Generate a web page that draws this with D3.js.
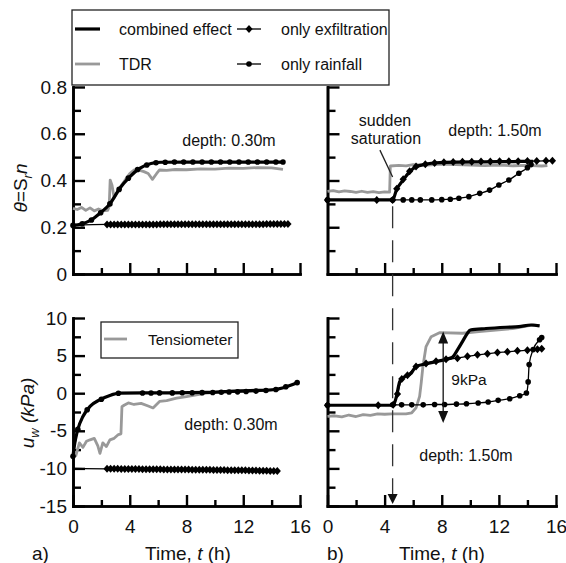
<!DOCTYPE html>
<html>
<head>
<meta charset="utf-8">
<script src="https://cdn.jsdelivr.net/npm/d3@7"></script>
<style>
  body { margin: 0; background: #fff; }
  text { font-family: "Liberation Sans", Arial, sans-serif; fill: #111; }
</style>
</head>
<body>
<script>
// ---- data: time (h) and value pairs ----

// a) top: volumetric water content at 0.30 m
var aTopCombined = [[0, 0.208], [0.6, 0.214], [1.2, 0.228], [1.9, 0.26], [2.6, 0.30], [3.3, 0.367], [4.0, 0.416],
  [4.7, 0.452], [5.5, 0.473], [6.2, 0.478], [8, 0.479], [10, 0.479], [12, 0.479], [14.8, 0.479]]
var aTopRain = [[0, 0.208], [0.65, 0.215], [1.3, 0.231], [1.95, 0.262], [2.6, 0.30], [3.25, 0.362], [3.9, 0.41],
  [4.55, 0.447], [5.2, 0.466], [5.85, 0.476], [6.5, 0.478], [7.15, 0.479], [7.8, 0.479], [8.45, 0.479],
  [9.1, 0.479], [9.75, 0.479], [10.4, 0.479], [11.05, 0.479], [11.7, 0.479], [12.35, 0.479], [13.0, 0.479],
  [13.65, 0.479], [14.3, 0.479], [14.8, 0.479]]
var aTopTDR = [[0, 0.281], [0.3, 0.276], [0.6, 0.285], [0.9, 0.272], [1.2, 0.283], [1.5, 0.27], [1.8, 0.278],
  [2.1, 0.27], [2.45, 0.272], [2.55, 0.29], [2.62, 0.402], [2.75, 0.38], [2.9, 0.326], [3.1, 0.345], [3.3, 0.37],
  [3.6, 0.395], [4.0, 0.43], [4.3, 0.445], [4.7, 0.443], [5.0, 0.438], [5.3, 0.43], [5.6, 0.405], [5.9, 0.43],
  [6.1, 0.445], [6.6, 0.443], [7.2, 0.447], [8, 0.446], [9, 0.45], [10, 0.449], [11, 0.453], [12, 0.452],
  [13, 0.455], [14, 0.454], [14.8, 0.448]]

// dense output times of the "only exfiltration" run at 0.30 m
var exfTimesA = [2.40, 2.65, 2.90, 3.15, 3.40, 3.65, 3.90, 4.15, 4.40, 4.65,
  4.90, 5.15, 5.40, 5.65, 5.90, 6.15, 6.40, 6.65, 6.90, 7.15,
  7.40, 7.65, 7.90, 8.15, 8.40, 8.65, 8.90, 9.15, 9.40, 9.65,
  9.90, 10.15, 10.40, 10.65, 10.90, 11.15, 11.40, 11.65, 11.90, 12.15,
  12.40, 12.65, 12.90, 13.15, 13.40, 13.65, 13.90, 14.15, 14.40, 14.65,
  14.90, 15.15]
var exfThetaA = [0.212, 0.212, 0.212, 0.212, 0.212, 0.212, 0.212, 0.212, 0.212, 0.212,
  0.212, 0.212, 0.212, 0.212, 0.212, 0.213, 0.213, 0.213, 0.213, 0.213,
  0.213, 0.213, 0.213, 0.213, 0.213, 0.213, 0.213, 0.213, 0.213, 0.213,
  0.213, 0.213, 0.213, 0.213, 0.213, 0.213, 0.213, 0.213, 0.213, 0.213,
  0.213, 0.213, 0.213, 0.213, 0.213, 0.214, 0.214, 0.214, 0.214, 0.214,
  0.214, 0.214]
var exfSuctionA = [-10.05, -10.05, -10.06, -10.06, -10.07, -10.07, -10.08, -10.08, -10.09, -10.09,
  -10.10, -10.10, -10.11, -10.11, -10.12, -10.12, -10.13, -10.13, -10.14, -10.14,
  -10.15, -10.15, -10.16, -10.16, -10.17, -10.17, -10.18, -10.18, -10.19, -10.19,
  -10.20, -10.21, -10.21, -10.22, -10.23, -10.23, -10.24, -10.25, -10.25, -10.26,
  -10.27, -10.28, -10.29, -10.30, -10.31, -10.32, -10.33, -10.34, -10.35]

// b) top: volumetric water content at 1.50 m
var bTopCombined = [[0, 0.317], [4.56, 0.317], [4.83, 0.36], [5.3, 0.402], [5.76, 0.438], [6.2, 0.459],
  [6.9, 0.47], [7.6, 0.476], [9, 0.479], [11, 0.48], [13, 0.481], [14.4, 0.482]]
var bTopExf = [[0, 0.317], [3.45, 0.317], [4.56, 0.317], [4.85, 0.365], [5.3, 0.405], [5.75, 0.44], [6.2, 0.46],
  [6.85, 0.47], [7.5, 0.475], [8.15, 0.478], [8.8, 0.479], [9.45, 0.48], [10.1, 0.48], [10.75, 0.481],
  [11.4, 0.481], [12.05, 0.482], [12.7, 0.482], [13.35, 0.482], [14.0, 0.483], [14.65, 0.483], [15.3, 0.484],
  [15.75, 0.485]]
var bTopRain = [[0, 0.317], [4.56, 0.317], [5.3, 0.317], [5.9, 0.317], [6.5, 0.317], [7.3, 0.317], [8.0, 0.318],
  [8.6, 0.32], [9.2, 0.324], [9.9, 0.331], [10.66, 0.345], [11.35, 0.359], [12.0, 0.381], [12.7, 0.402],
  [13.4, 0.431], [14.0, 0.455], [14.25, 0.468]]
var bTopTDR = [[0, 0.353], [0.4, 0.357], [0.8, 0.351], [1.2, 0.356], [1.6, 0.353], [2.0, 0.349], [2.4, 0.354],
  [2.8, 0.349], [3.2, 0.352], [3.6, 0.348], [4.0, 0.351], [4.35, 0.35], [4.4, 0.462], [5, 0.465], [5.5, 0.463],
  [6, 0.468], [7, 0.466], [8, 0.47], [9, 0.468], [10, 0.466], [11, 0.464], [12, 0.466], [13, 0.463],
  [14, 0.465], [15, 0.462], [15.4, 0.464]]

// a) bottom: pore water pressure at 0.30 m
var aBotCombined = [[0, -8.4], [0.09, -7.05], [0.2, -5.9], [0.34, -4.8], [0.7, -3.1], [1.2, -1.75], [1.9, -0.86],
  [2.6, -0.3], [3.3, 0], [5, 0.05], [7, 0.05], [9.4, 0.1], [11, 0.25], [12.5, 0.35], [14.06, 0.46],
  [14.76, 0.69], [15.1, 0.9], [15.8, 1.4]]
var aBotRain = [[0, -8.4], [0.34, -4.8], [1.0, -2.2], [2.0, -0.8], [3.2, 0], [4.9, 0.02], [5.5, 0.03], [6.1, 0.04],
  [7.0, 0.04], [7.7, 0.05], [8.4, 0.06], [9.1, 0.07], [9.85, 0.1], [10.45, 0.12], [11.0, 0.15], [11.6, 0.18],
  [12.2, 0.22], [12.9, 0.28], [13.6, 0.36], [14.3, 0.5], [15.0, 0.85], [15.8, 1.4]]
var aBotTens = [[0, -7.7], [0.2, -8.3], [0.45, -6.6], [0.7, -7.2], [0.95, -6.4], [1.2, -6.2], [1.5, -6.0],
  [1.75, -7.0], [1.9, -8.0], [2.1, -6.6], [2.35, -7.1], [2.6, -6.2], [2.9, -6.0], [3.2, -5.5], [3.38, -5.4],
  [3.45, -1.8], [3.6, -1.6], [3.9, -1.3], [4.3, -1.5], [4.8, -1.35], [5.3, -1.7], [5.64, -1.96], [6.1, -1.1],
  [6.6, -1.0], [7.3, -0.66], [8.0, -0.45], [8.9, -0.15], [9.4, 0], [11, 0.2], [13, 0.3], [14.5, 0.5]]

// b) bottom: pore water pressure at 1.50 m
var bBotCombined = [[0, -1.6], [4.6, -1.6], [4.83, -0.42], [5.06, 1.56], [5.4, 2.2], [5.87, 2.67], [6.2, 3.55],
  [6.9, 3.9], [7.6, 4.2], [8.3, 4.5], [8.76, 4.8], [9.1, 5.76], [9.45, 6.86], [9.8, 7.97], [10.0, 8.4],
  [11.1, 8.6], [12.5, 8.77], [13.4, 8.85], [14.25, 9.07], [14.85, 8.96]]
var bBotExf = [[0, -1.6], [3.55, -1.6], [4.6, -1.55], [4.9, -0.1], [5.2, 1.9], [5.6, 2.4], [6.2, 3.55], [6.9, 3.95],
  [7.6, 4.25], [8.3, 4.5], [9.1, 4.66], [9.8, 4.9], [10.5, 5.1], [11.2, 5.25], [11.9, 5.4], [12.6, 5.5],
  [13.3, 5.63], [14.0, 5.72], [14.7, 5.85], [15.0, 5.9]]
var bBotRain = [[0, -1.6], [4.56, -1.55], [5.19, -1.55], [5.9, -1.55], [6.7, -1.55], [7.5, -1.5], [8.2, -1.5],
  [9.03, -1.45], [9.73, -1.4], [10.55, -1.3], [11.25, -1.17], [11.95, -0.95], [12.76, -0.73], [13.46, -0.33],
  [13.93, 0.03], [14.05, 1.5], [14.12, 3.8], [14.4, 5.8], [14.85, 7.1], [15.0, 7.4]]
var bBotTens = [[0, -3.07], [0.5, -3.0], [1.0, -3.15], [1.5, -2.9], [2.0, -3.1], [2.5, -2.85], [3.0, -2.95],
  [3.5, -2.75], [4.0, -2.8], [4.5, -2.75], [5.0, -2.75], [5.5, -2.75], [5.9, -2.6], [6.2, -1.96], [6.45, -0.42],
  [6.56, 1.35], [6.68, 3.55], [6.9, 6.2], [7.26, 7.52], [7.84, 8.05], [9.45, 7.97], [10.6, 8.2], [12.97, 8.6],
  [14.4, 9.07], [14.85, 8.98]]

// ticks
var timeMajor = [4, 8, 12, 16]
var timeMinor = [2, 6, 10, 14]
var timeLabels = [0, 4, 8, 12, 16]
var thetaMajor = [0, 0.2, 0.4, 0.6, 0.8]
var thetaMinor = [0.1, 0.3, 0.5, 0.7]
var uwMajor = [-15, -10, -5, 0, 5, 10]
var uwMinor = [-12.5, -7.5, -2.5, 2.5, 7.5]

// annotations (data units)
var suddenTime = 4.56
var arrowTime = 8.1
var arrowRange = [-3.95, 8.2]

// ---- canvas ----
var svg = d3.select('body').append('svg')
  .attr('width', 566)
  .attr('height', 563)

// scales
var xA = d3.scaleLinear().domain([0, 16]).range([73, 300])
var xB = d3.scaleLinear().domain([0, 16]).range([327.5, 556])
var yTop = d3.scaleLinear().domain([0, 0.8]).range([274, 87])
var yBot = d3.scaleLinear().domain([-15, 10]).range([506, 318])

var FS = 19

function axes (x, y, yMajor, yMinor, showY, showX) {
  var g = svg.append('g')
  // minor ticks
  g.append('g')
    .attr('transform', 'translate(' + x.range()[0] + ',0)')
    .call(d3.axisLeft(y).tickValues(yMinor).tickSizeInner(-8).tickSizeOuter(0).tickFormat(''))
  g.append('g')
    .attr('transform', 'translate(0,' + y.range()[0] + ')')
    .call(d3.axisBottom(x).tickValues(timeMinor).tickSizeInner(-6).tickSizeOuter(0).tickFormat(''))
  // major ticks
  g.append('g')
    .attr('transform', 'translate(' + x.range()[0] + ',0)')
    .call(d3.axisLeft(y).tickValues(yMajor).tickSizeInner(-12).tickSizeOuter(0).tickPadding(6)
      .tickFormat(showY ? function (d) { return d } : ''))
  g.append('g')
    .attr('transform', 'translate(0,' + y.range()[0] + ')')
    .call(d3.axisBottom(x).tickValues(showX ? timeLabels : timeMajor).tickSizeInner(-11).tickSizeOuter(0)
      .tickPadding(14).tickFormat(showX ? function (d) { return d } : ''))
  g.selectAll('.domain').attr('stroke', '#000').attr('stroke-width', 2.6).attr('stroke-linecap', 'square')
  g.selectAll('.tick line').attr('stroke', '#000').attr('stroke-width', 2.4)
  g.selectAll('.tick text').attr('font-size', FS + 'px')
    .attr('font-family', '"Liberation Sans", Arial, sans-serif').attr('fill', '#111')
}

axes(xA, yTop, thetaMajor, thetaMinor, true, false)
axes(xB, yTop, thetaMajor, thetaMinor, false, false)
axes(xA, yBot, uwMajor, uwMinor, true, true)
axes(xB, yBot, uwMajor, uwMinor, false, true)

// ---- series ----
function lineOf (x, y, curve) {
  return d3.line()
    .x(function (d) { return x(d[0]) })
    .y(function (d) { return y(d[1]) })
    .curve(curve || d3.curveLinear)
}

function sensor (data, x, y) {
  svg.append('path').datum(data)
    .attr('d', lineOf(x, y))
    .attr('fill', 'none').attr('stroke', '#999').attr('stroke-width', 2.8)
    .attr('stroke-linejoin', 'round')
}

function combined (data, x, y) {
  svg.append('path').datum(data)
    .attr('d', lineOf(x, y, d3.curveMonotoneX))
    .attr('fill', 'none').attr('stroke', '#000').attr('stroke-width', 3.2)
    .attr('stroke-linejoin', 'round')
}

var diamond = 'M0,-4L3.6,0L0,4L-3.6,0Z'

function marked (data, x, y, shape, markFrom) {
  svg.append('path').datum(data)
    .attr('d', lineOf(x, y, d3.curveMonotoneX))
    .attr('fill', 'none').attr('stroke', '#000').attr('stroke-width', 1.3)
  var pts = svg.append('g').selectAll('g').data(data.slice(markFrom || 0))
  if (shape === 'diamond') {
    pts.enter().append('path')
      .attr('d', diamond)
      .attr('transform', function (d) { return 'translate(' + x(d[0]) + ',' + y(d[1]) + ')' })
      .attr('fill', '#000')
  } else {
    pts.enter().append('circle')
      .attr('cx', function (d) { return x(d[0]) })
      .attr('cy', function (d) { return y(d[1]) })
      .attr('r', 2.8)
      .attr('fill', '#000')
  }
}

function zip (ts, vs, start) {
  var out = [start]
  ts.forEach(function (t, i) { if (i < vs.length) out.push([t, vs[i]]) })
  return out
}

// a) top
sensor(aTopTDR, xA, yTop)
marked(zip(exfTimesA, exfThetaA, [0, 0.208]), xA, yTop, 'diamond', 1)
marked(aTopRain, xA, yTop, 'circle', 0)
combined(aTopCombined, xA, yTop)

// b) top
sensor(bTopTDR, xB, yTop)
marked(bTopRain, xB, yTop, 'circle', 0)
marked(bTopExf, xB, yTop, 'diamond', 0)
combined(bTopCombined, xB, yTop)

// a) bottom
sensor(aBotTens, xA, yBot)
marked(zip(exfTimesA, exfSuctionA, [0, -10.0]), xA, yBot, 'diamond', 1)
marked(aBotRain, xA, yBot, 'circle', 0)
combined(aBotCombined, xA, yBot)

// b) bottom
sensor(bBotTens, xB, yBot)
marked(bBotRain, xB, yBot, 'circle', 0)
marked(bBotExf, xB, yBot, 'diamond', 0)
combined(bBotCombined, xB, yBot)

// ---- annotations ----
function label (x, y, txt, size, anchor) {
  return svg.append('text')
    .attr('x', x).attr('y', y)
    .attr('font-size', (size || 16) + 'px')
    .attr('text-anchor', anchor || 'middle')
    .text(txt)
}

label(229, 146, 'depth: 0.30m')
label(495, 136, 'depth: 1.50m')
label(231, 430, 'depth: 0.30m')
label(466, 461, 'depth: 1.50m')
label(385, 126, 'sudden')
label(386, 144, 'saturation')
label(469, 385, '9kPa', 15.5)

// pointer to the sudden saturation
svg.append('line')
  .attr('x1', xB(3.67)).attr('y1', yTop(0.53))
  .attr('x2', xB(suddenTime)).attr('y2', yTop(0.415))
  .attr('stroke', '#222').attr('stroke-width', 1.3)

// dashed time marker down to the time axis
var xs = xB(suddenTime)
svg.append('line')
  .attr('x1', xs).attr('y1', yTop(0.29))
  .attr('x2', xs).attr('y2', yBot(-15) - 10)
  .attr('stroke', '#333').attr('stroke-width', 1.3)
  .attr('stroke-dasharray', '22,12')
svg.append('path')
  .attr('d', 'M' + (xs - 5) + ',' + (yBot(-15) - 12) + 'L' + (xs + 5) + ',' + (yBot(-15) - 12) +
    'L' + xs + ',' + (yBot(-15) - 2) + 'Z')
  .attr('fill', '#111')

// 9 kPa double arrow
var xa = xB(arrowTime)
var ya0 = yBot(arrowRange[0])
var ya1 = yBot(arrowRange[1])
svg.append('line')
  .attr('x1', xa).attr('y1', ya1 + 8).attr('x2', xa).attr('y2', ya0 - 8)
  .attr('stroke', '#111').attr('stroke-width', 1.3)
svg.append('path')
  .attr('d', 'M' + xa + ',' + ya1 + 'L' + (xa + 5) + ',' + (ya1 + 12) + 'L' + (xa - 5) + ',' + (ya1 + 12) + 'Z' +
    'M' + xa + ',' + ya0 + 'L' + (xa + 5) + ',' + (ya0 - 12) + 'L' + (xa - 5) + ',' + (ya0 - 12) + 'Z')
  .attr('fill', '#111')

// ---- axis titles ----
var yT = svg.append('text')
  .attr('transform', 'translate(27,188) rotate(-90)')
  .attr('text-anchor', 'middle')
  .attr('font-size', FS + 'px')
yT.append('tspan').attr('font-style', 'italic').text('θ')
yT.append('tspan').text('=S')
yT.append('tspan').attr('font-size', '13px').attr('font-style', 'italic').attr('dy', 5).text('r')
yT.append('tspan').attr('font-style', 'italic').attr('dy', -5).text('n')

var yB = svg.append('text')
  .attr('transform', 'translate(34,413) rotate(-90)')
  .attr('text-anchor', 'middle')
  .attr('font-size', FS + 'px')
yB.append('tspan').attr('font-style', 'italic').text('u')
yB.append('tspan').attr('font-size', '13px').attr('font-style', 'italic').attr('dy', 5).text('w')
yB.append('tspan').attr('font-style', 'italic').attr('dy', -5).text(' (kPa)')

function timeTitle (x) {
  var t = svg.append('text').attr('x', x).attr('y', 560)
    .attr('text-anchor', 'middle').attr('font-size', FS + 'px')
  t.append('tspan').text('Time, ')
  t.append('tspan').attr('font-style', 'italic').text('t')
  t.append('tspan').text(' (h)')
}
timeTitle(188)
timeTitle(442)
label(32, 560, 'a)', FS, 'start')
label(327, 560, 'b)', FS, 'start')

// ---- legends ----
var lg = svg.append('g')
lg.append('rect').attr('x', 72).attr('y', 10).attr('width', 317).attr('height', 75)
  .attr('fill', '#fff').attr('stroke', '#222').attr('stroke-width', 1.3)
lg.append('line').attr('x1', 75).attr('x2', 100).attr('y1', 29).attr('y2', 29)
  .attr('stroke', '#000').attr('stroke-width', 3.2)
lg.append('line').attr('x1', 75).attr('x2', 100).attr('y1', 64).attr('y2', 64)
  .attr('stroke', '#999').attr('stroke-width', 2.8)
lg.append('line').attr('x1', 237).attr('x2', 261).attr('y1', 29).attr('y2', 29)
  .attr('stroke', '#000').attr('stroke-width', 1.3)
lg.append('path').attr('d', diamond).attr('transform', 'translate(249,29)').attr('fill', '#000')
lg.append('line').attr('x1', 237).attr('x2', 261).attr('y1', 64).attr('y2', 64)
  .attr('stroke', '#000').attr('stroke-width', 1.3)
lg.append('circle').attr('cx', 249).attr('cy', 64).attr('r', 2.8).attr('fill', '#000')
label(119, 35, 'combined effect', 16, 'start')
label(119, 70, 'TDR', 16, 'start')
label(281, 35, 'only exfiltration', 16, 'start')
label(281, 70, 'only rainfall', 16, 'start')

var tg = svg.append('g')
tg.append('rect').attr('x', 101).attr('y', 322).attr('width', 137).attr('height', 36)
  .attr('fill', '#fff').attr('stroke', '#222').attr('stroke-width', 1.3)
tg.append('line').attr('x1', 104).attr('x2', 127).attr('y1', 339).attr('y2', 339)
  .attr('stroke', '#999').attr('stroke-width', 2.8)
tg.append('text').attr('x', 148).attr('y', 345).attr('font-size', '15.5px').text('Tensiometer')
</script>
</body>
</html>
